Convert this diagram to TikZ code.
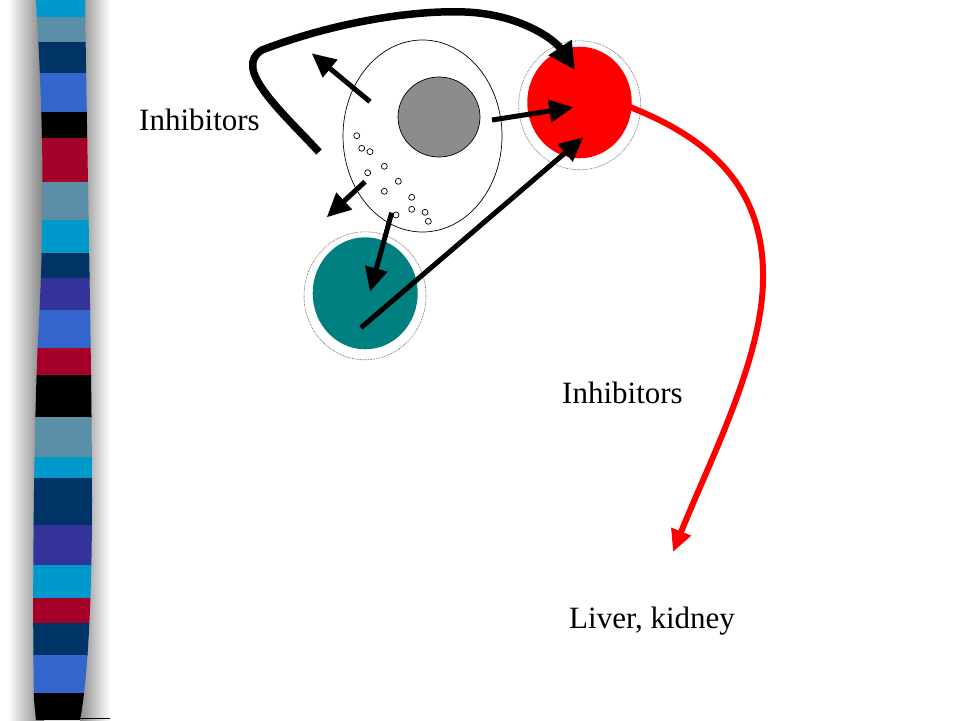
\documentclass[tikz,border=0pt]{standalone}
\usepackage{fontspec}
\setmainfont{Liberation Serif}
\usetikzlibrary{arrows.meta,shapes.geometric}
\definecolor{scyan}{HTML}{0099CC}
\definecolor{ssteel}{HTML}{5B8FA8}
\definecolor{snavy}{HTML}{003366}
\definecolor{sroyal}{HTML}{3366CC}
\definecolor{scrim}{HTML}{A50028}
\definecolor{sindigo}{HTML}{333399}
\definecolor{cellteal}{HTML}{008080}
\definecolor{cellgray}{HTML}{8C8C8C}
\tikzset{
  lbl/.style={anchor=base west, inner sep=0pt, font=\fontsize{31}{37}\selectfont},
  cellarrow/.style={line width=5pt, -{Triangle[length=24pt,width=22pt]}},
  ring/.style={draw=black!60, line width=0.6pt, dash pattern=on 0.8pt off 0.8pt},
  blob/.style={ellipse, inner sep=0pt},
  granule/.style={circle, draw, line width=0.7pt, fill=white, minimum size=6pt, inner sep=0pt},
}
\begin{document}
\begin{tikzpicture}[x=1pt,y=-1pt]
\useasboundingbox[fill=white] (0,0) rectangle (960,720);
% shadows of the bar
\shade[left color=white, right color=black!50] (8,0) rectangle (44,720);
\shade[left color=black!45, right color=white] (80,0) rectangle (110,720);
% striped bar
\begin{scope}
\clip (36,0) .. controls (42,100) and (46,200) .. (38,340) .. controls (34,420) and (32,600) .. (34,700) -- (36,720)
  -- (80,720) .. controls (86,690) and (92,620) .. (92,500) .. controls (92,380) and (88,200) .. (85,0) -- cycle;
\foreach \ya/\yb/\c in {0/17/scyan,17/42/ssteel,42/73/snavy,73/112/sroyal,112/138/black,138/182/scrim,
  182/220/ssteel,220/253/scyan,253/278/snavy,278/310/sindigo,310/348/sroyal,348/375/scrim,375/417/black,
  417/457/ssteel,457/478/scyan,478/525/snavy,525/565/sindigo,565/598/scyan,598/623/scrim,623/655/snavy,
  655/693/sroyal,693/720/black}
  \fill[\c] (20,\ya) rectangle (100,\yb+0.5);
\end{scope}
\draw[line width=1.5pt] (80,718.5) -- (110,718.5);

% cells
\node[blob, ring, minimum width=122pt, minimum height=129pt] (redring) at (579.7,105.3) {};
\node[blob, fill=red, minimum width=104.5pt, minimum height=111.6pt] (red) at (579.5,102.5) {};
\node[blob, ring, minimum width=122pt, minimum height=128pt] (tealring) at (365,295.8) {};
\node[blob, fill=cellteal, minimum width=105pt, minimum height=112pt] (teal) at (365.2,293.3) {};
\node[blob, draw, line width=0.7pt, fill=white, minimum width=159pt, minimum height=192pt] (cell) at (422.5,136) {};
\node[blob, draw, line width=0.7pt, fill=cellgray, minimum width=82pt, minimum height=80pt] (nucleus) at (439,117) {};

% granules
\foreach \gx/\gy [count=\i] in {356.7/135.7,361.7/148.3,370/151.7,367.7/172.7,384.3/166.3,398.3/181.3,
  384.3/191.3,411.7/197.3,411.7/209.3,425/212.3,428.3/221.3,396/215}
  \node[granule] (g\i) at (\gx,\gy) {};

% arrow end points
\coordinate (a1s) at (370,101.7);  \coordinate (a1e) at (311.7,53.3);
\coordinate (a2s) at (492,120);    \coordinate (a2e) at (573.3,107.3);
\coordinate (a3s) at (365,181.7);  \coordinate (a3e) at (326.7,217.3);
\coordinate (a4s) at (391.7,212.7); \coordinate (a4e) at (370,291.7);
\coordinate (a5s) at (361,327.7);  \coordinate (a5e) at (583.3,137.3);
\coordinate (bs) at (319,152);     \coordinate (be) at (575,70);
\coordinate (rs) at (630,107);     \coordinate (re) at (673,552);

\draw[cellarrow] (a1s) -- (a1e);
\draw[cellarrow] (a2s) -- (a2e);
\draw[cellarrow] (a3s) -- (a3e);
\draw[cellarrow] (a4s) -- (a4e);
\draw[cellarrow] (a5s) -- (a5e);

% big black feedback curve
\draw[line width=7.5pt, -{Triangle[length=27pt,width=26pt]}]
  (bs) .. controls (280,110) and (232,68) .. (262,50)
  .. controls (340,20) and (420,10) .. (465,12)
  .. controls (520,14) and (555,40) .. (be);

% red curve
\draw[red, line width=6pt, -{Triangle[length=22pt,width=20pt]}]
  (rs) .. controls (700,135) and (765,180) .. (763,280)
  .. controls (762,360) and (710,460) .. (re);

% labels
\node[lbl] (t1) at (139,130) {Inhibitors};
\node[lbl] (t2) at (562,403) {Inhibitors};
\node[lbl] (t3) at (569,628) {Liver, kidney};
\end{tikzpicture}
\end{document}
